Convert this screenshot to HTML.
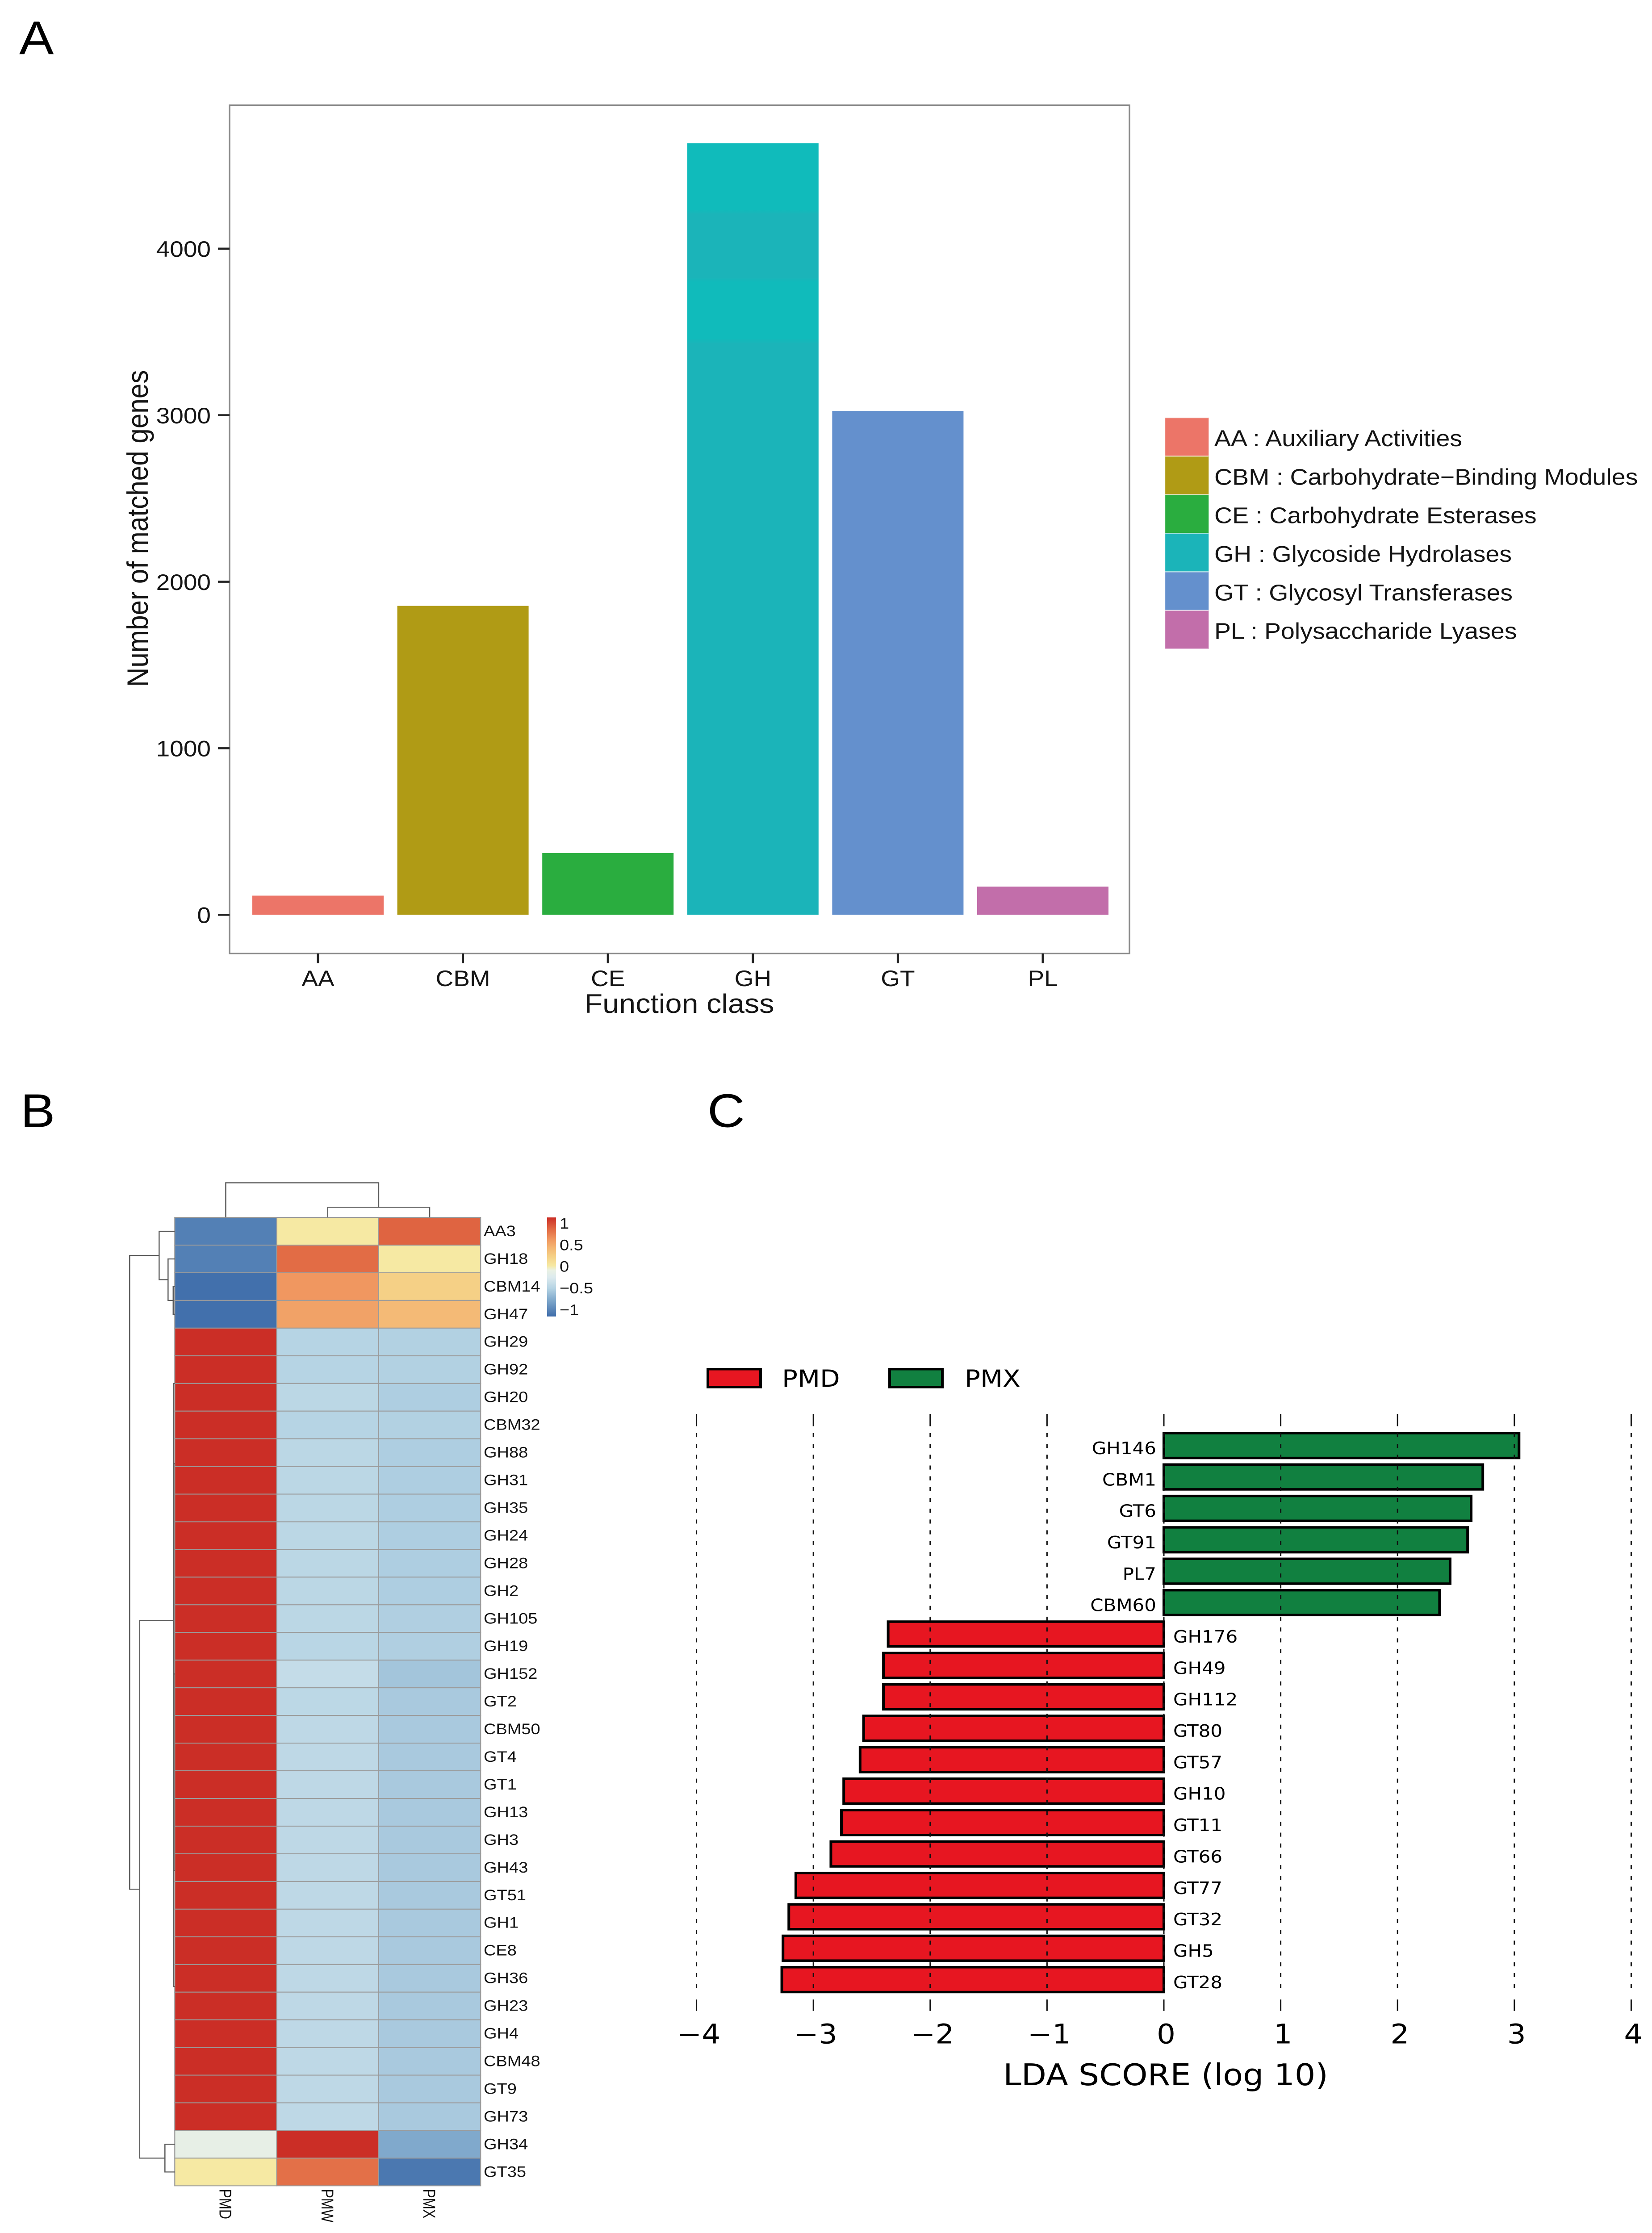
<!DOCTYPE html>
<html lang="en">
<head>
<meta charset="utf-8">
<title>CAZy function classes, heatmap and LDA scores</title>
<style>
html,body{margin:0;padding:0;background:#fff;width:100%;height:100%;overflow:hidden;}
svg{display:block;position:fixed;left:0;top:0;width:100vw;height:100vh;overflow:hidden;}
text{font-family:"Liberation Sans",sans-serif;fill:#141414;}
.dj{font-family:"DejaVu Sans",sans-serif;fill:#000;}
</style>
</head>
<body>
<svg id="fig" xmlns="http://www.w3.org/2000/svg" viewBox="0 0 3699 5480" preserveAspectRatio="none">
<defs>
<linearGradient id="ghBands" x1="0" y1="0" x2="0" y2="1">
<stop offset="0" stop-color="#10BBBB"/><stop offset="0.086" stop-color="#10BBBB"/>
<stop offset="0.092" stop-color="#1BB4B9"/><stop offset="0.174" stop-color="#1BB4B9"/>
<stop offset="0.18" stop-color="#10BBBB"/><stop offset="0.253" stop-color="#10BBBB"/>
<stop offset="0.26" stop-color="#1BB4B9"/><stop offset="1" stop-color="#1BB4B9"/>
</linearGradient>
<linearGradient id="heatScaleGrad" x1="0" y1="1" x2="0" y2="0"></linearGradient>
</defs>
<rect x="0" y="0" width="3699" height="5480" fill="#ffffff"/>
<text x="43" y="133" font-size="116" style="fill:#000">A</text>
<text x="46" y="2766" font-size="116" style="fill:#000">B</text>
<text x="1584" y="2766" font-size="116" style="fill:#000">C</text>
<g id="panelA"></g>
<g id="panelB"></g>
<g id="panelC"></g>
</svg>
<script>
/* ---------- Panel A data ---------- */
const classCategories = ["AA", "CBM", "CE", "GH", "GT", "PL"];
const classCounts = [115, 1855, 371, 4633, 3026, 169];
const classColors = ["#EC7568", "#B09B15", "#2AAD3F", "url(#ghBands)", "#6490CD", "#C26EAA"];
const classSwatchColors = ["#EC7568", "#B09B15", "#2AAD3F", "#1BB4B9", "#6490CD", "#C26EAA"];
const classLegendLabels = ["AA : Auxiliary Activities", "CBM : Carbohydrate\u2212Binding Modules", "CE : Carbohydrate Esterases", "GH : Glycoside Hydrolases", "GT : Glycosyl Transferases", "PL : Polysaccharide Lyases"];
const classYTicks = [0, 1000, 2000, 3000, 4000];

/* ---------- Panel B data ---------- */
const heatRows = ["AA3","GH18","CBM14","GH47","GH29","GH92","GH20","CBM32","GH88","GH31","GH35","GH24","GH28","GH2","GH105","GH19","GH152","GT2","CBM50","GT4","GT1","GH13","GH3","GH43","GT51","GH1","CE8","GH36","GH23","GH4","CBM48","GT9","GH73","GH34","GT35"];
const heatCols = ["PMD", "PMW", "PMX"];
const heatPMD = [-1.05,-1.05,-1.15,-1.15,1.17,1.17,1.17,1.17,1.17,1.17,1.17,1.17,1.17,1.17,1.17,1.17,1.17,1.17,1.17,1.17,1.17,1.17,1.17,1.17,1.17,1.17,1.17,1.17,1.17,1.17,1.17,1.17,1.17,-0.12,0.03];
const heatPMW = [0.03,0.88,0.65,0.58,-0.5,-0.5,-0.47,-0.5,-0.47,-0.47,-0.47,-0.47,-0.47,-0.47,-0.47,-0.48,-0.41,-0.46,-0.45,-0.45,-0.45,-0.45,-0.45,-0.45,-0.45,-0.45,-0.45,-0.45,-0.45,-0.45,-0.45,-0.45,-0.45,1.17,0.86];
const heatPMX = [0.92,0.03,0.25,0.42,-0.52,-0.52,-0.54,-0.52,-0.54,-0.54,-0.54,-0.54,-0.54,-0.54,-0.53,-0.53,-0.6,-0.57,-0.57,-0.57,-0.57,-0.57,-0.57,-0.57,-0.57,-0.57,-0.57,-0.57,-0.57,-0.57,-0.57,-0.57,-0.57,-0.78,-1.1];
const scaleValues = [-1.17,-0.77,-0.5,-0.25,-0.08,0.03,0.25,0.45,0.65,0.9,1.17];
const scaleColors = ["#3F6DAA","#82ABCD","#B6D4E4","#DCEAEE","#EAF1E4","#F6E9A3","#F5D086","#F4B673","#F09760","#E16843","#CB2E26"];
const scaleTicks = [1, 0.5, 0, -0.5, -1];
/* dendrogram brackets: height, position A, child height A, position B, child height B */
const rowBrackets = [[0.35,2.5,0,3.5,0],[1.5,1.5,0,3,0.35],[3.5,0.5,0,2.25,1.5],[0.25,6,0,27.8,0],[0.22,8.9,0,23.6,0],[0.2,16.5,0,23.6,0],[2.2,33.5,0,34.5,0],[7.85,14.57,0.25,34,2.2],[10.1,1.375,3.5,24.28,7.85]];
const colBrackets = [[2.5,1.5,0,2.5,0],[8.5,0.5,0,2,2.5]];

/* ---------- Panel C data ---------- */
const ldaLabels = ["GH146","CBM1","GT6","GT91","PL7","CBM60","GH176","GH49","GH112","GT80","GT57","GH10","GT11","GT66","GT77","GT32","GH5","GT28"];
const ldaScores = [3.04,2.73,2.63,2.60,2.45,2.36,-2.36,-2.40,-2.40,-2.57,-2.60,-2.74,-2.76,-2.85,-3.15,-3.21,-3.26,-3.27];
const ldaTicks = [-4,-3,-2,-1,0,1,2,3,4];
const ldaGroups = ["PMD","PMX"];

const NS = "http://www.w3.org/2000/svg";
function mk(parent, tag, attrs, txt){
  const el = document.createElementNS(NS, tag);
  for (const k in attrs) el.setAttribute(k, attrs[k]);
  if (txt !== undefined) el.textContent = txt;
  parent.appendChild(el);
  return el;
}
function slug(s){ return String(s).toLowerCase().replace(/[^a-z0-9]+/g,'-').replace(/^-|-$/g,''); }
function minus(v){ return String(v).replace('-', '\u2212'); }

/* ===== Panel A ===== */
(function(){
  const g = document.getElementById('panelA');
  const plot = {l:514, t:258, r:2529, b:2340};
  const y = v => 2245 - v * 0.4087;
  const x = i => 565 + i * 324.6;
  const barW = 294;
  const frame = mk(g,'rect',{x:plot.l,y:plot.t,width:plot.r-plot.l,height:plot.b-plot.t,fill:'#fff',stroke:'#8a8a8a','stroke-width':3.5});
  
  
  classYTicks.forEach(v=>{
    const t = mk(g,'line',{x1:plot.l-26,x2:plot.l,y1:y(v),y2:y(v),stroke:'#222','stroke-width':5});
    
    
    const l = mk(g,'text',{x:472,y:y(v)+20,'font-size':55,'text-anchor':'end'},v);
    
    
  });
  classCategories.forEach((c,i)=>{
    const h = classCounts[i]*0.4087;
    const b = mk(g,'rect',{x:x(i),y:y(classCounts[i]),width:barW,height:h,fill:classColors[i]});
    
    
    const cx = x(i)+barW/2;
    const t = mk(g,'line',{x1:cx,x2:cx,y1:plot.b,y2:plot.b+24,stroke:'#222','stroke-width':5});
    
    
    const l = mk(g,'text',{x:cx,y:2420,'font-size':55,'text-anchor':'middle'},c);
    
    
  });
  const xt = mk(g,'text',{x:1521,y:2486,'font-size':66.5,'text-anchor':'middle'},'Function class');
  
  
  const yt = mk(g,'text',{transform:'translate(331,1297) rotate(-90)','font-size':66,'text-anchor':'middle'},'Number of matched genes');
  
  
  classLegendLabels.forEach((s,i)=>{
    const yy = 1025 + i*94.6;
    const sw = mk(g,'rect',{x:2608,y:yy,width:99,height:94.6,fill:classSwatchColors[i],stroke:'#ffffff','stroke-opacity':0.55,'stroke-width':2.5});
    
    
    const l = mk(g,'text',{x:2719,y:yy+70,'font-size':55.5},s);
    
    
  });
})();

/* ===== Panel B ===== */
function hexToRgb(h){ return [1,3,5].map(i=>parseInt(h.substr(i,2),16)); }
function heatColor(v){
  const n = scaleValues.length;
  if (v <= scaleValues[0]) return scaleColors[0];
  if (v >= scaleValues[n-1]) return scaleColors[n-1];
  for (let i=0;i<n-1;i++){
    if (v>=scaleValues[i] && v<=scaleValues[i+1]){
      const f=(v-scaleValues[i])/(scaleValues[i+1]-scaleValues[i]);
      const a=hexToRgb(scaleColors[i]), b=hexToRgb(scaleColors[i+1]);
      return 'rgb('+a.map((c,k)=>Math.round(c+(b[k]-c)*f)).join(',')+')';
    }
  }
}
(function(){
  const g = document.getElementById('panelB');
  const left=391.3, top=2987.7, cw=228.3, rh=67.9;
  const colX = p => left + p*cw;
  const rowY = p => top + p*rh;
  const hX = h => left - h*10;
  const hY = h => top - h*10;
  const series = [heatPMD, heatPMW, heatPMX];
  heatRows.forEach((r,ri)=>{
    series.forEach((vals,ci)=>{
      const c = mk(g,'rect',{x:colX(ci),y:rowY(ri),width:cw,height:rh,fill:heatColor(vals[ri]),stroke:'#9b9b9b','stroke-width':2.2});
      
      
    });
    const l = mk(g,'text',{x:1083,y:rowY(ri+0.5)+12,'font-size':38},r);
    
    
  });
  heatCols.forEach((c,i)=>{
    const cx = colX(i+0.5)-14;
    const l = mk(g,'text',{transform:'translate('+cx+',5372) rotate(90)','font-size':38,textLength:[74,82,72][i],lengthAdjust:'spacingAndGlyphs'},c);
    
    
  });
  rowBrackets.forEach(b=>{
    const [h,pa,ha,pb,hb]=b;
    const p = mk(g,'path',{d:'M'+hX(ha)+' '+rowY(pa)+'H'+hX(h)+'V'+rowY(pb)+'H'+hX(hb),fill:'none',stroke:'#5a5a5a','stroke-width':2.5});
    
    
  });
  colBrackets.forEach(b=>{
    const [h,pa,ha,pb,hb]=b;
    const p = mk(g,'path',{d:'M'+colX(pa)+' '+hY(ha)+'V'+hY(h)+'H'+colX(pb)+'V'+hY(hb),fill:'none',stroke:'#5a5a5a','stroke-width':2.5});
    
    
  });
  /* colour scale */
  const grad = document.getElementById('heatScaleGrad');
  const vMin = scaleValues[0], vMax = scaleValues[scaleValues.length-1];
  scaleValues.forEach((v,i)=>{
    mk(grad,'stop',{offset:(v-vMin)/(vMax-vMin),'stop-color':scaleColors[i]});
  });
  const cb = mk(g,'rect',{x:1225,y:2987.7,width:20,height:243,fill:'url(#heatScaleGrad)'});
  
  
  scaleTicks.forEach(v=>{
    const yy = 3107.5 - v*106;
    const l = mk(g,'text',{x:1253,y:yy+13.5,'font-size':38},minus(v));
    
    
  });
})();

/* ===== Panel C ===== */
(function(){
  const g = document.getElementById('panelC');
  const x = v => 2606 + v*261.6;
  const barTop = i => 3517 + i*77.1;
  const barH = 61;
  ldaLabels.forEach((name,i)=>{
    const v = ldaScores[i];
    const b = mk(g,'rect',{x:Math.min(x(0),x(v)),y:barTop(i),width:Math.abs(x(v)-x(0)),height:barH,fill:v>0?'#118040':'#E71621',stroke:'#000','stroke-width':6});
    
    
    const l = mk(g,'text',{class:'dj',x:v>0?2589:2627,y:barTop(i)+barH/2+21,'font-size':42,'text-anchor':v>0?'end':'start'},name);
    
    
  });
  ldaTicks.forEach(v=>{
    const xx = x(v);
    const tt = mk(g,'line',{x1:xx,x2:xx,y1:3470,y2:3500,stroke:'#111','stroke-width':3});
    
    
    const bt = mk(g,'line',{x1:xx,x2:xx,y1:4907,y2:4935,stroke:'#111','stroke-width':3});
    
    
    const gl = mk(g,'line',{x1:xx,x2:xx,y1:3517,y2:4885,stroke:'#111','stroke-width':3,'stroke-dasharray':'10 16.5'});
    
    
    const l = mk(g,'text',{class:'dj',x:xx+5,y:5015,'font-size':66,'text-anchor':'middle'},minus(v));
    
    
  });
  const xt = mk(g,'text',{class:'dj',x:2610,y:5117,'font-size':73,'text-anchor':'middle'},'LDA SCORE (log 10)');
  
  
  ldaGroups.forEach((n,i)=>{
    const bx = i===0 ? 1585 : 1992;
    const r = mk(g,'rect',{x:bx,y:3360,width:118,height:44,fill:i===0?'#E71621':'#118040',stroke:'#000','stroke-width':6});
    
    
    const l = mk(g,'text',{class:'dj',x:i===0?1751:2160,y:3403,'font-size':58},n);
    
    
  });
})();
</script>
</body>
</html>
